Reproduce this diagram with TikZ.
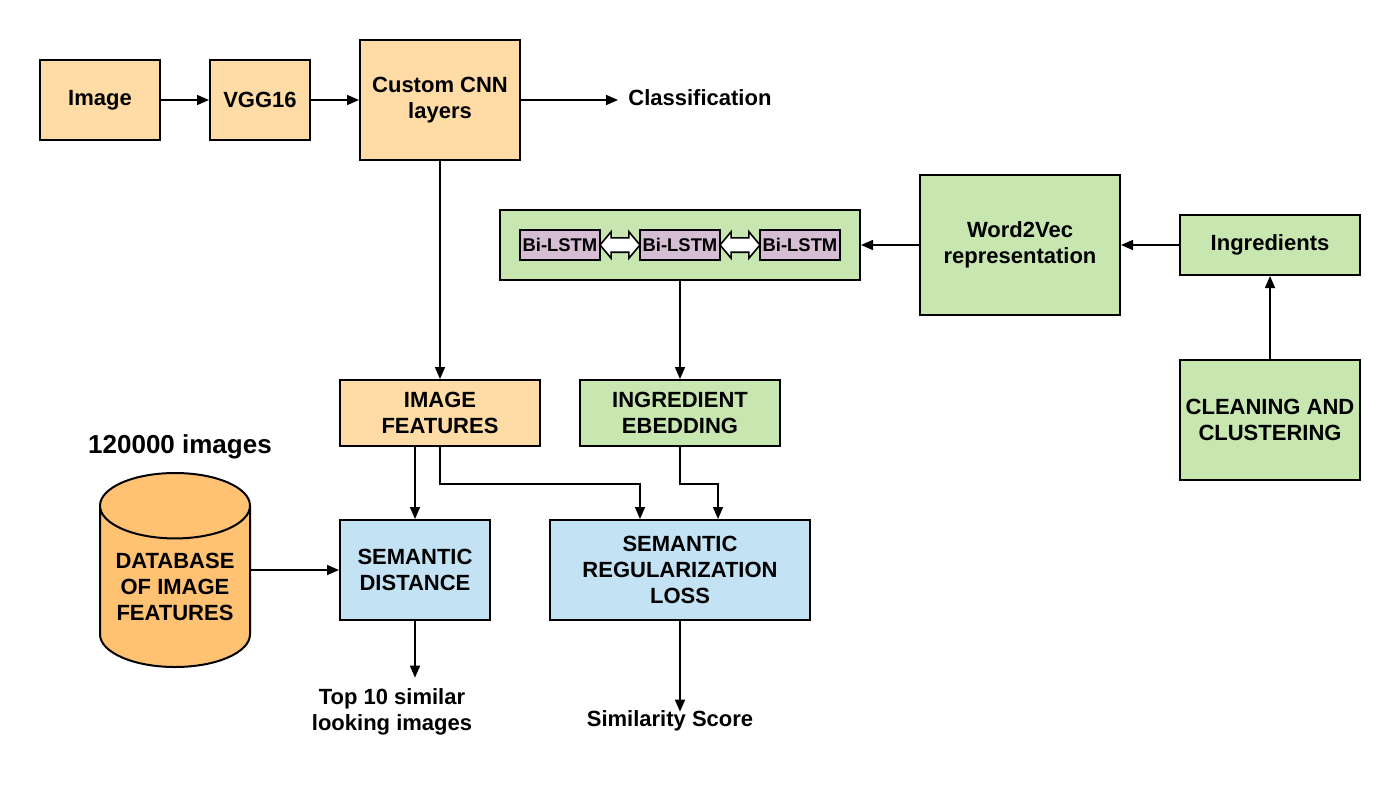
\documentclass[tikz,border=0pt]{standalone}
\usepackage{fontspec}
\setmainfont{Liberation Sans}
\usetikzlibrary{arrows.meta, positioning, shapes.geometric, shapes.arrows}

\definecolor{imgorange}{HTML}{FFDBA6}
\definecolor{txtgreen}{HTML}{C8E7B0}
\definecolor{lossblue}{HTML}{C3E3F5}
\definecolor{dborange}{HTML}{FFC273}
\definecolor{lstmpurple}{HTML}{D5BDD4}

\begin{document}
\begin{tikzpicture}[
        x=0.5pt, y=-0.5pt, >={Triangle[length=6pt,width=5pt]},
        every node/.style={font=\bfseries\fontsize{11}{13}\selectfont, align=center},
        block/.style={draw, line width=1pt, inner sep=0pt},
        imgblock/.style={block, fill=imgorange},
        txtblock/.style={block, fill=txtgreen},
        lossblock/.style={block, fill=lossblue},
        lstm/.style={block, fill=lstmpurple, minimum width=40pt, minimum height=15pt,
                     font=\bfseries\fontsize{9.2}{11}\selectfont},
        link/.style={line width=0.8pt, ->},
        dblarrow/.style={draw, fill=white, line width=0.8pt, double arrow,
                     minimum height=20pt, inner xsep=0pt, inner ysep=3.2pt,
                     double arrow head extend=3pt, double arrow tip angle=100}
        ]

        \useasboundingbox (0,0) rectangle (1400,793);

        % image branch
        \node[imgblock, minimum width=60pt, minimum height=40pt]   (image)   at (100,100) {Image};
        \node[imgblock, minimum width=50pt, minimum height=40pt]   (vgg)     at (260,100) {VGG16};
        \node[imgblock, minimum width=80pt, minimum height=60pt]   (cnn)     at (440,100) {Custom CNN\\layers};
        \node[anchor=west, inner sep=0pt]                          (cls)     at (628,98)  {Classification};
        \node[imgblock, minimum width=100pt, minimum height=33pt]  (imgfeat) at (440,413) {IMAGE\\FEATURES};

        % ingredient branch
        \node[txtblock, minimum width=180pt, minimum height=35pt]  (bilstm)  at (680,245) {};
        \node[lstm]    (lstm1) at (560,245) {Bi-LSTM};
        \node[lstm]    (lstm2) at (680,245) {Bi-LSTM};
        \node[lstm]    (lstm3) at (800,245) {Bi-LSTM};
        \node[dblarrow] (dbl1) at (620,245) {};
        \node[dblarrow] (dbl2) at (740,245) {};
        \node[txtblock, minimum width=100pt, minimum height=70pt]  (w2v)     at (1020,245) {Word2Vec\\representation};
        \node[txtblock, minimum width=90pt, minimum height=30pt]   (ingr)    at (1270,245) {Ingredients};
        \node[txtblock, minimum width=90pt, minimum height=60pt]   (clean)   at (1270,420) {CLEANING AND\\CLUSTERING};
        \node[txtblock, minimum width=100pt, minimum height=33pt]  (ingemb)  at (680,413) {INGREDIENT\\EBEDDING};

        % database
        \node[cylinder, shape border rotate=90, draw, line width=1pt, fill=dborange,
              minimum width=75pt, minimum height=97pt, aspect=0.55, inner sep=0pt,
              anchor=shape center] (db) at (175,570)
              {DATABASE\\OF IMAGE\\FEATURES};
        \node[font=\bfseries\fontsize{13}{15}\selectfont] (dbcount) at (180,447) {120000 images};

        % losses
        \node[lossblock, minimum width=75pt, minimum height=50pt]  (semdist) at (415,570) {SEMANTIC\\DISTANCE};
        \node[lossblock, minimum width=130pt, minimum height=50pt] (semreg)  at (680,570) {SEMANTIC\\REGULARIZATION\\LOSS};
        \node (top10) at (392,712) {Top 10 similar\\looking images};
        \node (simscore) at (670,721) {Similarity Score};

        % connectors
        \draw[link] (image) -- (vgg);
        \draw[link] (vgg) -- (cnn);
        \draw[link] (cnn.east) -- ([xshift=-5pt]cls.west |- cnn.east);
        \draw[link] (cnn) -- (imgfeat);
        \draw[link] (ingr) -- (w2v);
        \draw[link] (w2v) -- (bilstm);
        \draw[link] (clean) -- (ingr);
        \draw[link] (bilstm) -- (ingemb);
        \draw[link] ([xshift=-12.5pt]imgfeat.south) -- ([xshift=-12.5pt]imgfeat.south |- semdist.north);
        \draw[link] (imgfeat.south) -- ++(0,37) -| ([xshift=-20pt]semreg.north);
        \draw[link] (ingemb.south) -- ++(0,37) -| ([xshift=19pt]semreg.north);
        \draw[link] (db.east |- semdist.west) -- (semdist);
        \draw[link] (semdist) -- ([yshift=2pt]semdist.south |- top10.north);
        \draw[link] (semreg) -- ([yshift=-4pt]semreg.south |- simscore.north);
      \end{tikzpicture}
\end{document}
